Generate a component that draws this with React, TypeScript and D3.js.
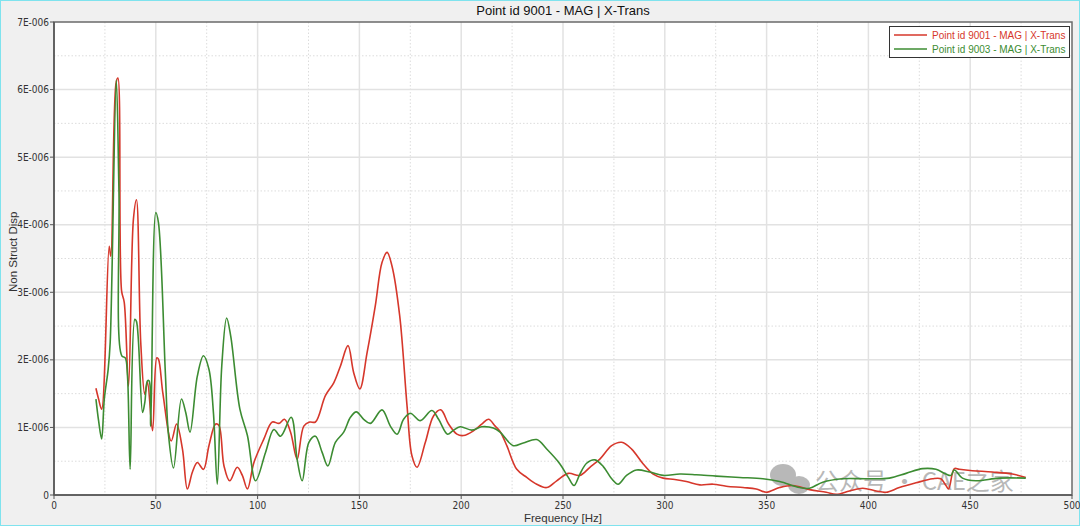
import React from 'react';
import * as d3 from 'd3';

// Point id 9001 (red)
const freq9001 = [
  20.6, 21.9, 23.4, 27.1, 27.9, 30.5, 31.4, 33.2, 34.5, 36.6, 39, 40.5, 42.6, 44.6, 45.9, 48.4,
  50.5, 51.3, 53.5, 57.6, 60.2, 63.1, 65.5, 68, 70.4, 73.4, 76.1, 79.4, 81, 83.5, 86.3, 90,
  92.5, 95, 98.2, 103.1, 107.2, 110.5, 113.2, 116.2, 119.4, 122.7, 125.6, 128.4, 133.3, 137.4,
  140.7, 144.4, 147.2, 150.2, 153.8, 157.8, 161.1, 163.6, 166, 169.8, 173.4, 175.8, 178.3,
  182.4, 186.4, 190, 193.8, 197.9, 201.1, 206, 210.1, 213.4, 216.7, 219.1, 222.4, 227.3, 232.2,
  237.1, 242, 246.9, 252.6, 258.3, 263.2, 268.1, 273.9, 278.8, 283.7, 289.4, 294.3, 299.2,
  304.9, 310.6, 317.2, 323.7, 330.2, 338.4, 344.9, 349.8, 356.4, 362.9, 371.1, 379.3, 384.2,
  390.7, 397.2, 403.8, 408.7, 415.2, 423.4, 431.5, 435.6, 438.1, 439.4, 442.2, 444.6, 451.1,
  460.9, 470.7, 477.3,
];
const val9001 = [
  1.58, 1.42, 1.27, 3.68, 3.53, 6.1, 6.17, 3.02, 2.85, 1.61, 4.08, 4.37, 2.26, 1.49, 1.67, 0.95,
  2.03, 2.01, 1.5, 0.8, 1.05, 0.68, 0.09, 0.34, 0.48, 0.38, 0.73, 1.05, 1.03, 0.43, 0.21, 0.41,
  0.29, 0.09, 0.48, 0.83, 1.08, 1.06, 1.12, 0.93, 0.53, 1.02, 1.08, 1.08, 1.47, 1.66,
  1.91, 2.21, 1.81, 1.57, 2.11, 2.8, 3.44, 3.59, 3.39, 2.65, 1.32, 0.58, 0.41,
  0.78, 1.17, 1.26, 1.05, 0.9, 0.88, 0.95, 1.05, 1.12, 1.02, 0.94, 0.73, 0.38, 0.26,
  0.16, 0.11, 0.21, 0.32, 0.29, 0.41, 0.53, 0.73, 0.78, 0.68, 0.46, 0.31, 0.25,
  0.23, 0.2, 0.15, 0.16, 0.13, 0.11, 0.09, 0.04, 0.11, 0.14, 0.08, 0.04, 0.01,
  0.06, 0.1, 0.06, 0.04, 0.11, 0.18, 0.24, 0.24, 0.14, 0.09, 0.39, 0.38, 0.36,
  0.34, 0.31, 0.26,
];

// Point id 9003 (green)
const freq9003 = [
  20.6, 21.9, 23.4, 24.7, 26.6, 27.6, 30.6, 31.9, 33.3, 35, 36.1, 37.4, 39.7, 40.5, 43.5, 44.6,
  45.9, 46.7, 47.5, 50, 51.3, 54.7, 56.2, 58.7, 62.6, 64.7, 66.8, 70.4, 73.4, 76.1, 78.3, 80.2,
  82.4, 84.8, 86.8, 91.3, 95, 99, 103.9, 108, 111.3, 116.5, 119.4, 121.9, 125.2, 128.4, 131.7,
  134.5, 138.2, 142.3, 145.6, 148.5, 152.1, 155.4, 161.1, 165.2, 168.5, 171.7, 175, 179.9,
  185.6, 188.9, 193.3, 195.9, 199.5, 205.2, 210.1, 215.8, 219.1, 225.6, 230.5, 237.1, 242,
  248.5, 252.6, 255.4, 258.3, 261.6, 265.7, 269.8, 273.9, 277.1, 281.2, 286.1, 292.6, 299.2,
  307.4, 315.5, 325.3, 336.8, 348.2, 356.4, 366.2, 371.1, 377.6, 387.4, 398.9, 410.3, 418.5,
  426.6, 433.2, 438.1, 440.5, 442.2, 446.2, 452.8, 464.2, 477.3,
];
const val9003 = [
  1.42, 1.1, 0.83, 1.42, 1.86, 2.26, 6.14, 4.5, 2.06, 2.03, 1.76, 0.38, 2.6, 2.57, 1.22, 1.37,
  1.69, 1.69, 1.02, 4.18, 4.03, 1.8, 0.9, 0.4, 1.42, 1.22, 0.93, 1.76, 2.06, 1.86, 1.22, 0.16,
  1.91, 2.62, 2.35, 1.27, 0.88, 0.21, 0.63, 0.97, 0.87, 1.15, 0.53, 0.21, 0.78, 0.87, 0.63,
  0.43, 0.78, 0.93, 1.15, 1.23, 1.12, 1.06, 1.26, 1.02, 0.9, 1.12, 1.21, 1.1,
  1.25, 1.12, 0.9, 0.95, 1.01, 0.96, 1.01, 0.99, 0.93, 0.73, 0.77, 0.82, 0.68,
  0.46, 0.26, 0.14, 0.31, 0.47, 0.52, 0.42, 0.24, 0.16, 0.29, 0.37, 0.34, 0.29,
  0.31, 0.3, 0.28, 0.26, 0.24, 0.2, 0.11, 0.1, 0.19, 0.24, 0.24, 0.25, 0.32,
  0.39, 0.38, 0.31, 0.29, 0.37, 0.25, 0.21, 0.25, 0.25,
];

const xTicks = [0, 50, 100, 150, 200, 250, 300, 350, 400, 450, 500];
const yTicks = [0, 1, 2, 3, 4, 5, 6, 7]; // in units of 1E-006
const seriesNames = ['Point id 9001 - MAG | X-Trans', 'Point id 9003 - MAG | X-Trans'];
const seriesColors = ['#d6372b', '#3c8c32'];

const W = 1080;
const H = 526;
const margin = { left: 54, right: 8, top: 22, bottom: 31 };
const narrow = '"Liberation Sans Narrow", "DejaVu Sans Condensed", sans-serif';
const sans = '"Liberation Sans", Arial, sans-serif';

export default function App() {
  const x = d3.scaleLinear().domain([0, 500]).range([margin.left, W - margin.right]);
  const y = d3.scaleLinear().domain([0, 7]).range([H - margin.bottom, margin.top]);

  const line = d3
    .line<[number, number]>()
    .x(d => x(d[0]))
    .y(d => y(d[1]))
    .curve(d3.curveCatmullRom.alpha(0.5));

  const series = [
    freq9001.map((f, i) => [f, val9001[i]] as [number, number]),
    freq9003.map((f, i) => [f, val9003[i]] as [number, number]),
  ];

  const minorX = d3.range(25, 500, 50);
  const minorY = d3.range(0.5, 7, 1);
  const [x0, x1] = x.range();
  const [y0, y1] = y.range();

  return (
    <div style={{ position: 'fixed', left: 0, top: 0 }}>
      <svg width={W} height={H} style={{ display: 'block' }}>
        <rect x={0} y={0} width={W} height={H} fill="#f0f0f0" />
        <rect x={0.5} y={0.5} width={W - 1} height={H - 1} fill="none" stroke="#7fe3ee" />
        <text x={(x0 + x1) / 2} y={15} textAnchor="middle" fontFamily={sans} fontSize={13} fill="#111">
          Point id 9001 - MAG | X-Trans
        </text>

        <rect x={x0} y={y1} width={x1 - x0} height={y0 - y1} fill="#fff" />
        {/* grid */}
        {minorX.map(t => (
          <line key={'mx' + t} x1={x(t)} x2={x(t)} y1={y1} y2={y0} stroke="#dcdcdc" strokeDasharray="1.5,2" />
        ))}
        {minorY.map(t => (
          <line key={'my' + t} x1={x0} x2={x1} y1={y(t)} y2={y(t)} stroke="#dcdcdc" strokeDasharray="1.5,2" />
        ))}
        {xTicks.slice(1, -1).map(t => (
          <line key={'gx' + t} x1={x(t)} x2={x(t)} y1={y1} y2={y0} stroke="#e2e2e2" strokeWidth={1.5} />
        ))}
        {yTicks.slice(1, -1).map(t => (
          <line key={'gy' + t} x1={x0} x2={x1} y1={y(t)} y2={y(t)} stroke="#e2e2e2" strokeWidth={1.5} />
        ))}

        <defs>
          <clipPath id="plot">
            <rect x={x0} y={y1} width={x1 - x0} height={y0 - y1} />
          </clipPath>
        </defs>

        {/* watermark */}
        <g opacity={0.6} fill="#8a8a8a">
          <ellipse cx={783} cy={475} rx={13} ry={11} />
          <ellipse cx={799} cy={485} rx={11} ry={9} />
          <text x={815} y={490} fontFamily='"Noto Sans CJK SC", sans-serif' fontSize={24}>
            公众号 · CAE之家
          </text>
        </g>

        <g clipPath="url(#plot)">
          {series.map((s, i) => (
            <path key={i} d={line(s) || ''} fill="none" stroke={seriesColors[i]} strokeWidth={1.6} />
          ))}
        </g>

        {/* frame and axes */}
        <rect x={x0} y={y1} width={x1 - x0} height={y0 - y1} fill="none" stroke="#6a6a6a" strokeWidth={1.5} />
        <line x1={x0} x2={x0} y1={y1} y2={y0} stroke="#555" strokeWidth={1.5} />
        <line x1={x0} x2={x1} y1={y0} y2={y0} stroke="#555" strokeWidth={1.5} />

        {yTicks.map(t => (
          <g key={'yt' + t}>
            <line x1={x0 - 4} x2={x0} y1={y(t)} y2={y(t)} stroke="#555" />
            <text x={x0 - 5} y={y(t) + 3.5} textAnchor="end" fontFamily={narrow} fontSize={10} fill="#333">
              {t === 0 ? '0' : `${t}E-006`}
            </text>
          </g>
        ))}
        {xTicks.map(t => (
          <g key={'xt' + t}>
            <line x1={x(t)} x2={x(t)} y1={y0} y2={y0 + 4} stroke="#555" />
            <text x={x(t)} y={y0 + 14} textAnchor="middle" fontFamily={narrow} fontSize={10} fill="#333">
              {t}
            </text>
          </g>
        ))}

        <text x={(x0 + x1) / 2} y={H - 4} textAnchor="middle" fontFamily={sans} fontSize={11.5} fill="#333">
          Frequency [Hz]
        </text>
        <text
          transform={`translate(17,${y(3.6)}) rotate(-90)`}
          textAnchor="middle"
          fontFamily={sans}
          fontSize={11.5}
          fill="#333"
        >
          Non Struct Disp
        </text>

        {/* legend */}
        <g transform="translate(889,26)">
          <rect x={0.5} y={0.5} width={180} height={31} fill="#fff" stroke="#333" />
          {seriesNames.map((n, i) => (
            <g key={n} transform={`translate(0,${9 + i * 14})`}>
              <line x1={5} x2={38} y1={0} y2={0} stroke={seriesColors[i]} strokeWidth={1.6} />
              <text x={43} y={3.5} fontFamily={sans} fontSize={10} fill={seriesColors[i]}>
                {n}
              </text>
            </g>
          ))}
        </g>
      </svg>
    </div>
  );
}
